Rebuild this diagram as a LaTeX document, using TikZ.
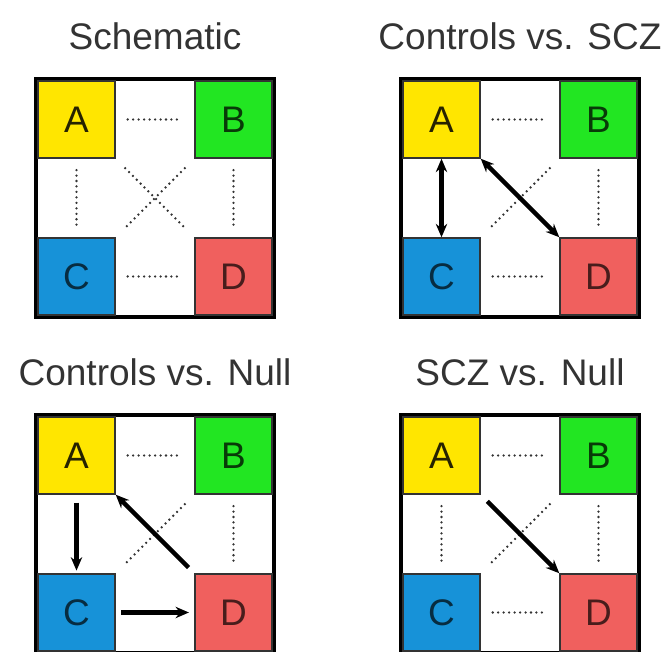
\documentclass[tikz,border=0pt]{standalone}
\usepackage{fontspec}
\setmainfont{Liberation Sans}
\usepackage{xcolor}
\usetikzlibrary{positioning, calc, arrows.meta}
\definecolor{cellA}{HTML}{FFE600}
\definecolor{cellB}{HTML}{22E622}
\definecolor{cellC}{HTML}{1792D8}
\definecolor{cellD}{HTML}{F0605E}
\tikzset{
    panelbox/.style={draw=black, line width=3pt},
    cell/.style={rectangle, draw=black!80, line width=1.1pt, minimum size=57.75pt, inner sep=0pt, font=\fontsize{27.75}{32}\selectfont},
    title/.style={font=\fontsize{27.75}{32}\selectfont, text=black!80, inner sep=0pt},
    dotline/.style={draw=black!80, line width=1.9pt, dash pattern=on 0pt off 4.1pt, line cap=round},
    arrow/.style={draw=black, line width=3.2pt, >={Stealth[length=10pt, width=8.5pt]}}
}
\begin{document}
\begin{tikzpicture}[x=0.75pt, y=-0.75pt]
    \useasboundingbox (0,0) rectangle (669,652);

    % Panels: frame, title and four cells
    \foreach \p/\x/\y/\ttl in {s/36/79/Schematic, c/401/79/Controls vs. SCZ, n/36/415/Controls vs. Null, z/401/415/SCZ vs. Null} {
        \draw[panelbox] (\x,\y) rectangle ++(238,238);
        \node[title, anchor=base] (\p-title) at ({\x+119},{\y-29}) {\ttl};
        \node[cell, fill=cellA, text=cellA!15!black] (\p-A) at ({\x+40.5},{\y+40.5}) {A};
        \node[cell, fill=cellB, text=cellB!25!black] (\p-B) at ({\x+197.5},{\y+40.5}) {B};
        \node[cell, fill=cellC, text=cellC!30!black] (\p-C) at ({\x+40.5},{\y+197.5}) {C};
        \node[cell, fill=cellD, text=cellD!30!black] (\p-D) at ({\x+197.5},{\y+197.5}) {D};
    }

    % Schematic
    \draw[dotline, shorten <=9pt, shorten >=9pt] (s-A) -- (s-B);
    \draw[dotline, shorten <=9pt, shorten >=9pt] (s-C) -- (s-D);
    \draw[dotline, shorten <=8.5pt, shorten >=8.5pt] (s-A) -- (s-C);
    \draw[dotline, shorten <=8.5pt, shorten >=8.5pt] (s-B) -- (s-D);
    \draw[dotline, shorten <=10pt, shorten >=10pt] (s-A.south east) -- (s-D.north west);
    \draw[dotline, shorten <=10pt, shorten >=10pt] (s-B.south west) -- (s-C.north east);

    % Controls vs. SCZ
    \draw[dotline, shorten <=9pt, shorten >=9pt] (c-A) -- (c-B);
    \draw[dotline, shorten <=9pt, shorten >=9pt] (c-C) -- (c-D);
    \draw[dotline, shorten <=8.5pt, shorten >=8.5pt] (c-B) -- (c-D);
    \draw[dotline, shorten <=10pt, shorten >=10pt] (c-B.south west) -- (c-C.north east);
    \draw[arrow, <->] (c-A) -- (c-C);
    \draw[arrow, <->] (c-A.south east) -- (c-D.north west);

    % Controls vs. Null
    \draw[dotline, shorten <=9pt, shorten >=9pt] (n-A) -- (n-B);
    \draw[dotline, shorten <=8.5pt, shorten >=8.5pt] (n-B) -- (n-D);
    \draw[dotline, shorten <=10pt, shorten >=10pt] (n-B.south west) -- (n-C.north east);
    \draw[arrow, ->, shorten <=6pt, shorten >=2pt] (n-A) -- (n-C);
    \draw[arrow, ->, shorten <=4pt, shorten >=4pt] (n-C) -- (n-D);
    \draw[arrow, ->, shorten <=6pt] (n-D.north west) -- (n-A.south east);

    % SCZ vs. Null
    \draw[dotline, shorten <=9pt, shorten >=9pt] (z-A) -- (z-B);
    \draw[dotline, shorten <=9pt, shorten >=9pt] (z-C) -- (z-D);
    \draw[dotline, shorten <=8.5pt, shorten >=8.5pt] (z-A) -- (z-C);
    \draw[dotline, shorten <=8.5pt, shorten >=8.5pt] (z-B) -- (z-D);
    \draw[dotline, shorten <=10pt, shorten >=10pt] (z-B.south west) -- (z-C.north east);
    \draw[arrow, ->, shorten <=7pt] (z-A.south east) -- (z-D.north west);
\end{tikzpicture}
\end{document}
